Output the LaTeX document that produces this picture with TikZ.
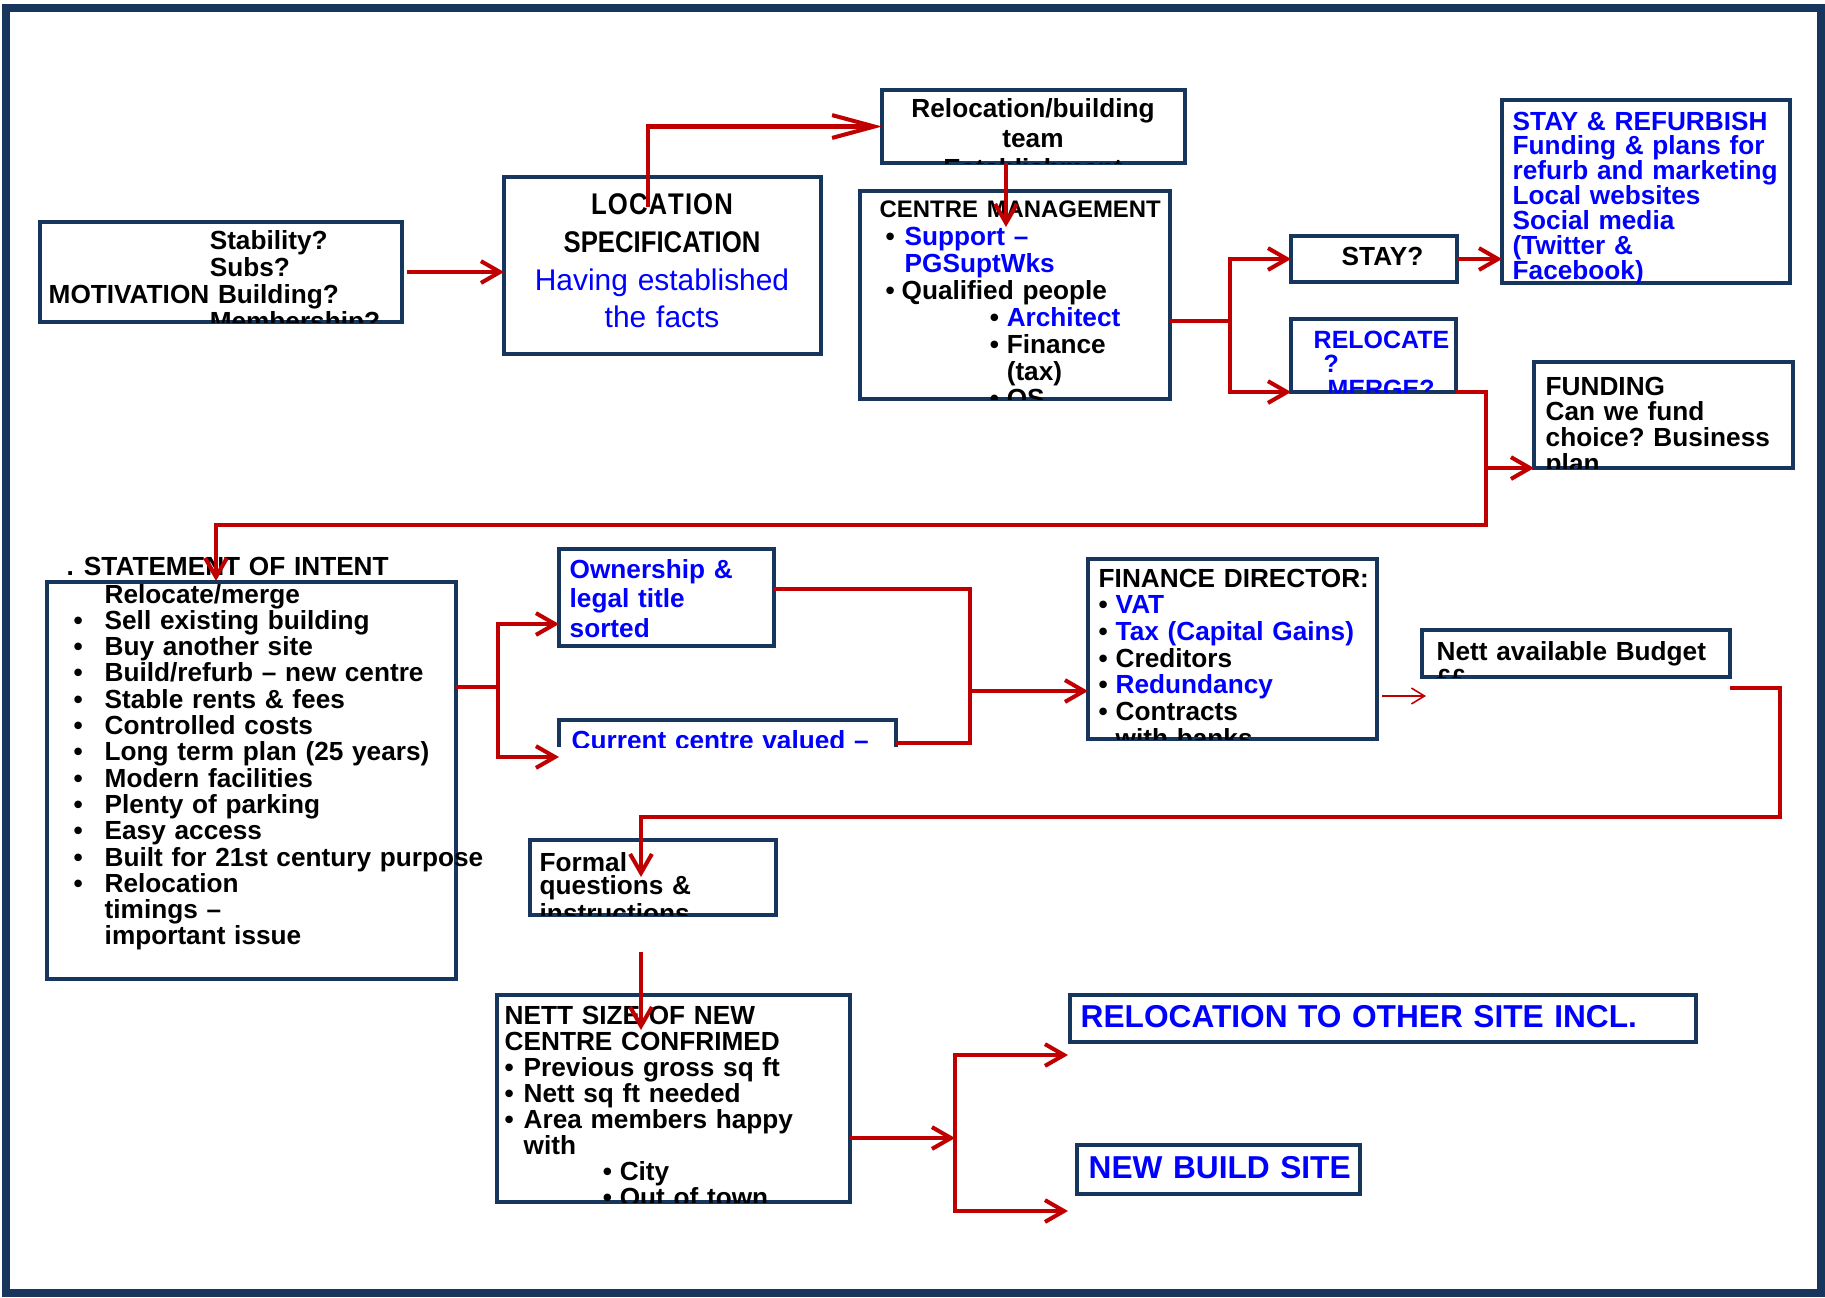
\documentclass[tikz,border=0pt]{standalone}
\usepackage{fontspec}
\setmainfont{Liberation Sans}
\newfontfamily\narrowsans{Liberation Sans}[FakeStretch=0.86]
\usetikzlibrary{arrows.meta}

\definecolor{boxnavy}{RGB}{23,54,93}
\definecolor{linkred}{RGB}{192,0,0}
\definecolor{textblue}{RGB}{0,0,255}

\newcommand{\bul}[1]{\makebox[#1][l]{•}}
\newcommand{\bluetext}[1]{\textcolor{textblue}{#1}}
\newcommand{\clippedtext}[5][]
{
  \begin{scope}
    \clip (#2.south west) rectangle (#2.north east);
    \node[boxtext=#4, #1] (#2-text) at #3 {#5};
  \end{scope}
}

\begin{document}
\begin{tikzpicture}[x=0.01cm, y=-0.01cm,
  flowbox/.style={draw=boxnavy, line width=1.15pt, inner sep=0pt, outer sep=0pt, anchor=north west},
  boxtext/.style={inner sep=0pt, anchor=base west, align=left, text width=6cm,
    font=\fontsize{7.45}{#1}\selectfont\bfseries\frenchspacing},
  boxtext/.default=7.6,
  link/.style={draw=linkred, line width=1.15pt},
  flowarrow/.style={link, -{Straight Barb[length=5.4pt, width=6.2pt]}},
  thinarrow/.style={draw=linkred, line width=0.45pt, -{Straight Barb[length=3.7pt, width=4.5pt]}}]

  \useasboundingbox (0,0) rectangle (1825,1297);
  \draw[boxnavy, line width=2.1pt] (6,8) rectangle (1821,1293);

  \node[flowbox, minimum width=3.62cm, minimum height=1.00cm] (mot) at (40,222) {};
  \node[flowbox, minimum width=3.17cm, minimum height=1.77cm] (loc) at (504,177) {};
  \node[flowbox, minimum width=3.03cm, minimum height=0.73cm] (team) at (882,90) {};
  \node[flowbox, minimum width=3.10cm, minimum height=2.08cm] (cm) at (860,191) {};
  \node[flowbox, minimum width=1.66cm, minimum height=0.46cm] (stay) at (1291,236) {};
  \node[flowbox, minimum width=2.88cm, minimum height=1.83cm] (sref) at (1502,100) {};
  \node[flowbox, minimum width=1.65cm, minimum height=0.73cm] (reloc) at (1291,319) {};
  \node[flowbox, minimum width=2.59cm, minimum height=1.06cm] (fund) at (1534,362) {};
  \node[flowbox, minimum width=4.09cm, minimum height=3.97cm] (stmt) at (47,582) {};
  \node[flowbox, minimum width=2.15cm, minimum height=0.97cm] (own) at (559,549) {};
  \node[flowbox, draw=none, minimum width=3.37cm, minimum height=0.27cm] (cur) at (559,720) {};
  \draw[boxnavy, line width=1.15pt] (cur.south west) |- (cur.north east) -- (cur.south east);
  \node[flowbox, minimum width=2.89cm, minimum height=1.80cm] (fin) at (1088,559) {};
  \node[flowbox, minimum width=3.08cm, minimum height=0.47cm] (bud) at (1422,630) {};
  \node[flowbox, minimum width=2.46cm, minimum height=0.75cm] (form) at (530,840) {};
  \node[flowbox, minimum width=3.53cm, minimum height=2.07cm] (nett) at (497,995) {};
  \node[flowbox, minimum width=6.26cm, minimum height=0.47cm] (relsite) at (1070,995) {};
  \node[flowbox, minimum width=2.83cm, minimum height=0.49cm] (newsite) at (1077,1145) {};

  \clippedtext{mot}{(48,249)}{7.68}{%
    \hspace*{1.61cm}Stability?\\
    \hspace*{1.61cm}Subs?\\
    MOTIVATION Building?\\
    \hspace*{1.61cm}Membership?}

  \node[boxtext, align=center, text width=3.17cm, anchor=base,
    font=\fontsize{8.5}{10.7}\selectfont\bfseries] (loc-text) at (662,215)
    {{\narrowsans L\kern0.3ptO\kern0.3ptC\kern0.3ptA\kern0.3ptT\kern0.3ptI\kern0.3ptO\kern0.3ptN\\ SPECIFICATION}\\
     {\mdseries\color{textblue}Having established\\ the facts}};

  \clippedtext[align=center, text width=3.03cm, anchor=base]{team}{(1033,118)}{8.5}{%
    Relocation/building\\ team\\ Establishment}

  \clippedtext{cm}{(879,218)}{7.68}{%
    {\fontsize{6.8}{7.68}\selectfont CENTRE MANAGEMENT}\\
    \hspace*{0.06cm}\bul{0.19cm}\bluetext{Support –}\\
    \hspace*{0.25cm}\bluetext{PGSuptWks}\\
    \hspace*{0.06cm}\bul{0.16cm}Qualified people\\
    \hspace*{1.10cm}\bul{0.17cm}\bluetext{Architect}\\
    \hspace*{1.10cm}\bul{0.17cm}Finance\\
    \hspace*{1.27cm}(tax)\\
    \hspace*{1.10cm}\bul{0.17cm}QS}

  \clippedtext{stay}{(1341,265)}{7.6}{STAY?}

  \clippedtext[text=textblue]{sref}{(1512,130)}{7.1}{%
    STAY \& REFURBISH\\ Funding \& plans for\\ refurb and marketing\\
    Local websites\\ Social media\\ (Twitter \&\\ Facebook)}

  \clippedtext[text=textblue, font=\fontsize{7.1}{7.1}\selectfont\bfseries]{reloc}{(1313,348)}{7.1}{%
    RELOCATE\\ \hspace*{0.10cm}?\\ \hspace*{0.14cm}MERGE?}

  \clippedtext{fund}{(1545,395)}{7.3}{FUNDING\\ Can we fund\\ choice? Business\\ plan}

  \node[boxtext] (stmt-head) at (66,575) {.\hspace*{0.10cm}STATEMENT OF INTENT};
  \node[boxtext=7.48] (stmt-text) at (73,603) {%
    \hspace*{0.31cm}Relocate/merge\\
    \bul{0.31cm}Sell existing building\\
    \bul{0.31cm}Buy another site\\
    \bul{0.31cm}Build/refurb – new centre\\
    \bul{0.31cm}Stable rents \& fees\\
    \bul{0.31cm}Controlled costs\\
    \bul{0.31cm}Long term plan (25 years)\\
    \bul{0.31cm}Modern facilities\\
    \bul{0.31cm}Plenty of parking\\
    \bul{0.31cm}Easy access\\
    \bul{0.31cm}Built for 21st century purpose\\
    \bul{0.31cm}Relocation\\
    \hspace*{0.31cm}timings –\\
    \hspace*{0.31cm}important issue};

  \clippedtext[text=textblue]{own}{(569,578)}{8.4}{Ownership \&\\ legal title\\ sorted}
  \clippedtext[text=textblue]{cur}{(571,749)}{7.5}{Current centre valued –}

  \clippedtext{fin}{(1098,587)}{7.6}{%
    FINANCE DIRECTOR:\\
    \bul{0.17cm}\bluetext{VAT}\\
    \bul{0.17cm}\bluetext{Tax (Capital Gains)}\\
    \bul{0.17cm}Creditors\\
    \bul{0.17cm}\bluetext{Redundancy}\\
    \bul{0.17cm}Contracts\\
    \hspace*{0.17cm}with banks}

  \clippedtext{bud}{(1436,660)}{7.68}{Nett available Budget\\ ££}
  \clippedtext{form}{(539,871)}{6.7}{Formal\\ questions \&\\ instructions}

  \clippedtext{nett}{(504,1024)}{7.42}{%
    NETT SIZE OF NEW\\
    CENTRE CONFRIMED\\
    \bul{0.19cm}Previous gross sq ft\\
    \bul{0.19cm}Nett sq ft needed\\
    \bul{0.19cm}Area members happy\\
    \hspace*{0.19cm}with\\
    \hspace*{0.98cm}\bul{0.17cm}City\\
    \hspace*{0.98cm}\bul{0.17cm}Out of town}

  \node[boxtext, text=textblue, font=\fontsize{9.0}{9.0}\selectfont\bfseries]
    (relsite-text) at (1080,1027) {RELOCATION TO OTHER SITE INCL.};
  \node[boxtext, text=textblue, font=\fontsize{9.0}{9.0}\selectfont\bfseries]
    (newsite-text) at (1088,1178) {NEW BUILD SITE};

  \coordinate (loctap) at (648,207);
  \coordinate (cmtap) at (1006,227);
  \coordinate (cmfork) at (1230,321);
  \coordinate (relturn) at (1486,525);
  \coordinate (stmttap) at (216,581);
  \coordinate (stmtfork) at (498,687);
  \coordinate (owntip) at (559,624);
  \coordinate (curtip) at (559,757);
  \coordinate (ownout) at (774,589);
  \coordinate (curout) at (896,743);
  \coordinate (finbar) at (970,691);
  \coordinate (budtip) at (1426,696);
  \coordinate (budout) at (1730,688);
  \coordinate (budturn) at (1780,817);
  \coordinate (formtip) at (641,877);
  \coordinate (formout) at (641,952);
  \coordinate (nettip) at (641,1030);
  \coordinate (sitefork) at (955,1138);
  \coordinate (reltip) at (1068,1055);
  \coordinate (newtip) at (1068,1211);

  \draw[flowarrow, shorten <=1.4pt] (mot.east) -- (loc.west |- mot.east);
  \draw[link, -{Straight Barb[length=12pt, width=6.5pt]}] (loctap) |- (team.west);
  \draw[flowarrow] (team.south -| cmtap) -- (cmtap);

  % stay or relocate
  \draw[link] (cm.east |- cmfork) -- (cmfork);
  \draw[flowarrow] (cmfork) |- (stay.west);
  \draw[flowarrow] (cmfork) |- (reloc.south west);
  \draw[flowarrow] (stay.east) -- (sref.west |- stay.east);

  % relocate goes on to funding and back round to the statement
  \draw[flowarrow] (reloc.south east) -| (relturn) -| (stmttap);
  \draw[flowarrow] (relturn |- fund.south west) -- (fund.south west);

  \draw[link] (stmt.east |- stmtfork) -- (stmtfork);
  \draw[flowarrow] (stmtfork) |- (owntip);
  \draw[flowarrow] (stmtfork) |- (curtip);

  \draw[link] (ownout) -| (finbar) |- (curout);
  \draw[flowarrow] (finbar) -- (fin.west |- finbar);
  \draw[thinarrow, shorten <=1.4pt] (fin.east |- budtip) -- (budtip);

  \draw[flowarrow] (budout) -| (budturn) -| (formtip);
  \draw[flowarrow] (formout) -- (nettip);

  \draw[flowarrow] (nett.east |- sitefork) -- (sitefork);
  \draw[flowarrow] (sitefork) |- (reltip);
  \draw[flowarrow] (sitefork) |- (newtip);

\end{tikzpicture}
\end{document}
